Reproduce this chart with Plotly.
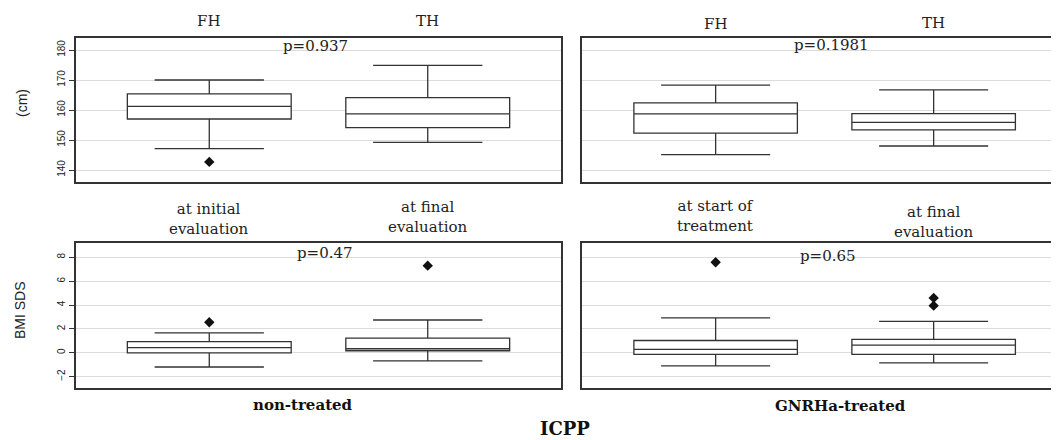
import plotly.graph_objects as go

# ---- data ----
groups = ["FH", "TH"]
bmi_groups_nt = ["at initial<br>evaluation", "at final<br>evaluation"]
bmi_groups_tr = ["at start of<br>treatment", "at final<br>evaluation"]

# height (cm), non-treated panel (top-left)
h_nt_q1 = [157.0, 154.1]
h_nt_med = [161.2, 158.7]
h_nt_q3 = [165.4, 164.1]
h_nt_lo = [147.1, 149.2]
h_nt_hi = [170.0, 174.9]
h_nt_out_x = [0]
h_nt_out_y = [142.7]

# height (cm), GnRHa-treated panel (top-right)
h_tr_q1 = [152.3, 153.4]
h_tr_med = [158.7, 155.9]
h_tr_q3 = [162.4, 158.8]
h_tr_lo = [145.1, 148.0]
h_tr_hi = [168.3, 166.7]

# BMI SDS, non-treated (bottom-left)
b_nt_q1 = [0.0, 0.17]
b_nt_med = [0.44, 0.34]
b_nt_q3 = [0.94, 1.23]
b_nt_lo = [-1.19, -0.67]
b_nt_hi = [1.67, 2.75]
b_nt_out_x = [0, 1]
b_nt_out_y = [2.56, 7.3]

# BMI SDS, GnRHa-treated (bottom-right)
b_tr_q1 = [-0.14, -0.14]
b_tr_med = [0.28, 0.65]
b_tr_q3 = [1.03, 1.12]
b_tr_lo = [-1.09, -0.84]
b_tr_hi = [2.92, 2.63]
b_tr_out_x = [0, 1, 1]
b_tr_out_y = [7.59, 4.6, 3.95]

p_values = ["p=0.937", "p=0.1981", "p=0.47", "p=0.65"]
height_ticks = [140, 150, 160, 170, 180]
bmi_ticks = [-2, 0, 2, 4, 6, 8]

LINE = "#333333"
SERIF = "DejaVu Serif"
SANS = "Liberation Sans"

# page offset (body margin) compensation
OFF = 8
W, H = 1059 - OFF, 440 - OFF
ML, MT, MB = 76 - OFF, 38 - OFF, 52
PW = W - ML          # plot-area width in px
PH = H - MT - MB     # plot-area height in px

def px_x(px):  # page pixel x -> paper
    return (px - 76) / PW

def px_y(py):  # page pixel y -> paper
    return (388 - py) / PH

fig = go.Figure()

def add_box(q1, med, q3, lo, hi, xa, ya):
    fig.add_trace(go.Box(
        x=[0, 1], q1=q1, median=med, q3=q3, lowerfence=lo, upperfence=hi,
        width=0.75, whiskerwidth=0.667, fillcolor="white",
        line=dict(color=LINE, width=1.3), boxpoints=False,
        xaxis=xa, yaxis=ya, showlegend=False, hoverinfo="skip"))

def add_out(xs, ys, xa, ya):
    fig.add_trace(go.Scatter(
        x=xs, y=ys, mode="markers",
        marker=dict(symbol="diamond", size=8, color="#111111"),
        xaxis=xa, yaxis=ya, showlegend=False, hoverinfo="skip"))

add_box(h_nt_q1, h_nt_med, h_nt_q3, h_nt_lo, h_nt_hi, "x", "y")
add_out(h_nt_out_x, h_nt_out_y, "x", "y")
add_box(h_tr_q1, h_tr_med, h_tr_q3, h_tr_lo, h_tr_hi, "x2", "y2")
add_box(b_nt_q1, b_nt_med, b_nt_q3, b_nt_lo, b_nt_hi, "x3", "y3")
add_out(b_nt_out_x, b_nt_out_y, "x3", "y3")
add_box(b_tr_q1, b_tr_med, b_tr_q3, b_tr_lo, b_tr_hi, "x4", "y4")
add_out(b_tr_out_x, b_tr_out_y, "x4", "y4")

dl = [0, px_x(561)]
dr = [px_x(582), 1]
dt = [px_y(182), 1]
db = [0, px_y(243)]

xcommon = dict(showgrid=False, zeroline=False, showticklabels=False, ticks="",
               showline=True, linecolor=LINE, linewidth=2, fixedrange=True)
ycommon = dict(showgrid=True, gridcolor="#dcdcdc", gridwidth=1, zeroline=False,
               showline=True, linecolor=LINE, linewidth=2,
               tickfont=dict(family=SANS, size=10, color="#222"), tickangle=-90)

fig.update_layout(
    xaxis=dict(domain=dl, range=[-0.61, 1.61], anchor="y", mirror=True, **xcommon),
    xaxis2=dict(domain=dr, range=[-0.613, 1.575], anchor="y2", mirror=True, **xcommon),
    xaxis3=dict(domain=dl, range=[-0.61, 1.61], anchor="y3", mirror=True, **xcommon),
    xaxis4=dict(domain=dr, range=[-0.613, 1.575], anchor="y4", mirror=True, **xcommon),
    yaxis=dict(domain=dt, range=[136, 184], anchor="x", tickvals=height_ticks,
               ticks="outside", ticklen=5, tickcolor=LINE, mirror=True, **ycommon),
    yaxis2=dict(domain=dt, range=[136, 184], anchor="x2", tickvals=height_ticks,
                showticklabels=False, ticks="", mirror=False, **ycommon),
    yaxis3=dict(domain=db, range=[-2.95, 9.2], anchor="x3", tickvals=bmi_ticks,
                ticks="outside", ticklen=5, tickcolor=LINE, mirror=True, **ycommon),
    yaxis4=dict(domain=db, range=[-2.95, 9.2], anchor="x4", tickvals=bmi_ticks,
                showticklabels=False, ticks="", mirror=False, **ycommon),
    width=W, height=H,
    margin=dict(l=ML, r=0, t=MT, b=MB),
    plot_bgcolor="white", paper_bgcolor="white",
)

TXT = "#222"
C = dict(showarrow=False, xanchor="center", yanchor="middle")
ann = []
# group labels above the top panels
for xa, ys in (("x", [21, 21]), ("x2", [24, 23])):
    for i, g in enumerate(groups):
        ann.append(dict(x=i, y=px_y(ys[i]), xref=xa, yref="paper", text=g,
                        font=dict(family=SERIF, size=15, color=TXT), **C))
# time labels above bottom panels
for i, g in enumerate(bmi_groups_nt):
    ann.append(dict(x=i, y=px_y([219, 217][i]), xref="x3", yref="paper", text=g,
                    font=dict(family=SERIF, size=15, color=TXT), **C))
for i, g in enumerate(bmi_groups_tr):
    ann.append(dict(x=i, y=px_y([216, 222][i]), xref="x4", yref="paper", text=g,
                    font=dict(family=SERIF, size=15, color=TXT), **C))
# p-values
ann.append(dict(x=0.486, y=181.3, xref="x", yref="y", text=p_values[0],
                font=dict(family=SERIF, size=15, color=TXT), **C))
ann.append(dict(x=0.533, y=181.7, xref="x2", yref="y2", text=p_values[1],
                font=dict(family=SERIF, size=15, color=TXT), **C))
ann.append(dict(x=0.53, y=8.4, xref="x3", yref="y3", text=p_values[2],
                font=dict(family=SERIF, size=15, color=TXT), **C))
ann.append(dict(x=0.515, y=8.15, xref="x4", yref="y4", text=p_values[3],
                font=dict(family=SERIF, size=15, color=TXT), **C))
# group names below
ann.append(dict(x=px_x(303), y=px_y(405), xref="paper", yref="paper", text="<b>non-treated</b>",
                font=dict(family=SERIF, size=15, color="#111"), **C))
ann.append(dict(x=px_x(840), y=px_y(406), xref="paper", yref="paper", text="<b>GNRHa-treated</b>",
                font=dict(family=SERIF, size=15, color="#111"), **C))
ann.append(dict(x=px_x(565), y=px_y(428), xref="paper", yref="paper", text="<b>ICPP</b>",
                font=dict(family=SERIF, size=18, color="#111"), **C))
# y-axis titles
ann.append(dict(x=px_x(22), y=px_y(103), xref="paper", yref="paper", text="(cm)",
                textangle=-90, font=dict(family=SANS, size=14, color=TXT), **C))
ann.append(dict(x=px_x(20), y=px_y(310), xref="paper", yref="paper", text="BMI SDS",
                textangle=-90, font=dict(family=SANS, size=14, color=TXT), **C))

fig.update_layout(annotations=ann)
fig.write_html("out.html")
